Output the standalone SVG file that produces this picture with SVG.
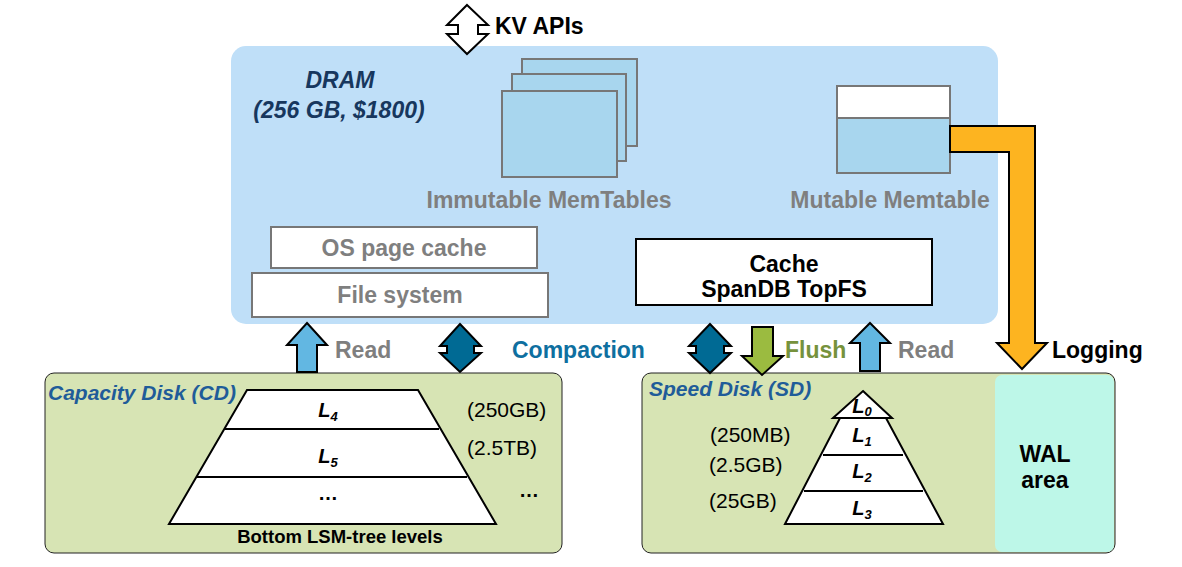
<svg xmlns="http://www.w3.org/2000/svg" width="1182" height="567" viewBox="0 0 1182 567">
<style>
text{font-family:"Liberation Sans",Arial,sans-serif}
.b{font-weight:bold}
.bi{font-weight:bold;font-style:italic}
.gray{fill:#7F7F7F}
.lbl{font-size:23px;font-weight:bold}
.mem{fill:#A8D6EE;stroke:#777;stroke-width:2}
.wbox{fill:#fff;stroke:#777;stroke-width:2}
.disk{fill:#D7E4B4;stroke:#222;stroke-width:1}
.lvl{fill:#fff;stroke:#000;stroke-width:2}
.size{font-size:21px;fill:#000}
.L{font-size:20px;font-weight:bold;font-style:italic;text-anchor:middle}
.sub{font-size:13px}
.ar{stroke:#000;stroke-width:2;stroke-linejoin:miter}
</style>
<g id="dram">
<rect x="231" y="46" width="767" height="278" rx="15" fill="#BFDFF8"/>
<text class="bi" x="340" y="88" font-size="23" fill="#17375E" text-anchor="middle">DRAM</text>
<text class="bi" x="339" y="118" font-size="23" fill="#17375E" text-anchor="middle">(256 GB, $1800)</text>
</g>
<g id="immutable">
<rect class="mem" x="522" y="59" width="115" height="87"/>
<rect class="mem" x="512" y="74" width="114" height="87"/>
<rect class="mem" x="502" y="91" width="115" height="86"/>
<text class="lbl gray" x="549" y="208" text-anchor="middle">Immutable MemTables</text>
</g>
<g id="mutable">
<rect x="837" y="86" width="113" height="32" fill="#fff" stroke="#777" stroke-width="2"/>
<rect class="mem" x="837" y="118" width="113" height="55"/>
<text class="lbl gray" x="890" y="208" text-anchor="middle">Mutable Memtable</text>
</g>
<g id="ospagecache">
<rect class="wbox" x="271" y="227" width="266" height="41"/>
<text class="lbl gray" x="404" y="256" text-anchor="middle">OS page cache</text>
</g>
<g id="filesystem">
<rect class="wbox" x="252" y="273" width="296" height="44"/>
<text class="lbl gray" x="400" y="303" text-anchor="middle">File system</text>
</g>
<g id="topfs">
<rect x="636" y="239" width="296" height="66" fill="#fff" stroke="#000" stroke-width="2"/>
<text class="lbl" x="784" y="272" text-anchor="middle">Cache</text>
<text class="lbl" x="784" y="297" text-anchor="middle">SpanDB TopFS</text>
</g>
<g id="cd">
<rect class="disk" x="45" y="373" width="517" height="180" rx="9"/>
<text class="bi" x="48" y="400" font-size="21" fill="#1F5C99">Capacity Disk (CD)</text>
<polygon class="lvl" points="247,390 418,390 496,524 169,524"/>
<line x1="225" y1="429" x2="439" y2="429" stroke="#000" stroke-width="2"/>
<line x1="197" y1="477" x2="467" y2="477" stroke="#000" stroke-width="2"/>
<text class="L" x="328" y="417">L<tspan class="sub" dy="4">4</tspan></text>
<text class="L" x="328" y="463">L<tspan class="sub" dy="4">5</tspan></text>
<text x="328" y="500" font-size="20" text-anchor="middle" class="b">…</text>
<text class="size" x="467" y="417">(250GB)</text>
<text class="size" x="467" y="455">(2.5TB)</text>
<text x="529" y="497" font-size="20" text-anchor="middle" class="b">…</text>
<text class="b" x="340" y="543" font-size="18.5" text-anchor="middle">Bottom LSM-tree levels</text>
</g>
<g id="sd">
<rect class="disk" x="642" y="373" width="473" height="180" rx="9"/>
<rect x="995" y="375" width="119" height="177" rx="7" fill="#BDF7E8"/>
<text class="lbl" x="1045" y="462" text-anchor="middle">WAL</text>
<text class="lbl" x="1045" y="488" text-anchor="middle">area</text>
<text class="bi" x="649" y="396" font-size="21" fill="#1F5C99">Speed Disk (SD)</text>
<polygon class="lvl" points="840,418 886,418 943,524 785,524"/>
<line x1="823" y1="455" x2="903" y2="455" stroke="#000" stroke-width="2"/>
<line x1="804" y1="491" x2="923" y2="491" stroke="#000" stroke-width="2"/>
<polygon class="lvl" points="863,391 892,418 833,418"/>
<text class="L" x="862" y="413">L<tspan class="sub" dy="3">0</tspan></text>
<text class="L" x="862" y="442">L<tspan class="sub" dy="4">1</tspan></text>
<text class="L" x="862" y="478">L<tspan class="sub" dy="4">2</tspan></text>
<text class="L" x="862" y="515">L<tspan class="sub" dy="4">3</tspan></text>
<text class="size" x="710" y="442">(250MB)</text>
<text class="size" x="709" y="472">(2.5GB)</text>
<text class="size" x="709" y="508">(25GB)</text>
</g>
<g id="connectors">
<polygon class="ar" fill="#fff" stroke-width="1.5" points="467,5 488,25 478,25 478,34 488,34 467,54 447,34 458,34 458,25 447,25"/>
<polygon class="ar" fill="#62B7E2" points="307,323 327,345 317,345 317,372 297,372 297,345 287,345"/>
<polygon class="ar" fill="#006A94" points="460,324 481,346 474,346 474,353 481,353 460,372 440,353 447,353 447,346 440,346"/>
<polygon class="ar" fill="#006A94" points="710,324 731,346 724,346 724,353 731,353 710,373 689,353 696,353 696,346 689,346"/>
<polygon class="ar" fill="#9BBB40" points="752,327 773,327 773,356 783,356 762,375 742,356 752,356"/>
<polygon class="ar" fill="#62B7E2" points="870,323 890,343 880,343 880,371 860,371 860,343 850,343"/>
<path class="ar" fill="#FDB420" d="M950,126 H1035 V343 H1047 L1022,369 L997,343 H1009 V152 H950 Z"/>
<text class="lbl" x="495" y="34">KV APIs</text>
<text class="lbl gray" x="335" y="358">Read</text>
<text class="lbl" x="512" y="358" fill="#0E6FA0">Compaction</text>
<text class="lbl" x="785" y="358" fill="#76923C">Flush</text>
<text class="lbl gray" x="898" y="358">Read</text>
<text class="lbl" x="1052" y="358">Logging</text>
</g>
</svg>
